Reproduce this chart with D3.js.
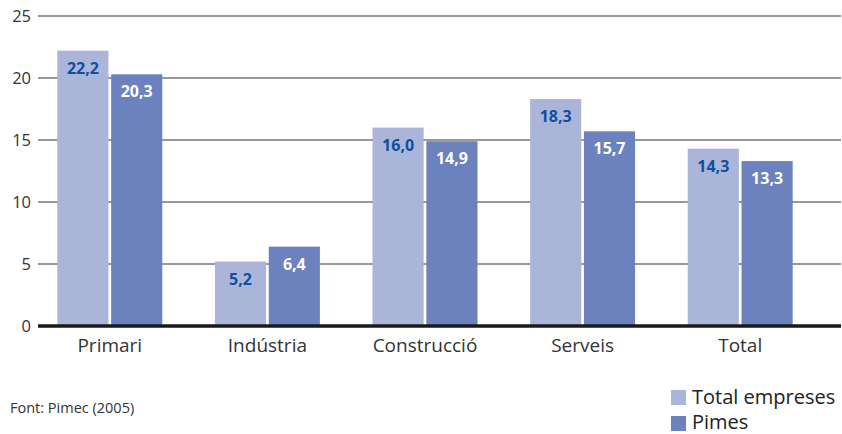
<!DOCTYPE html>
<html><head><meta charset="utf-8">
<script src="https://cdn.jsdelivr.net/npm/d3@7"></script>
<style>body{margin:0;background:#fff}svg{display:block}</style>
</head><body>
<svg id="c" width="842" height="434"></svg>
<script>
const categories = ["Primari","Indústria","Construcció","Serveis","Total"];
const seriesNames = ["Total empreses","Pimes"];
const totalEmpreses = [22.2, 5.2, 16.0, 18.3, 14.3];
const pimes = [20.3, 6.4, 14.9, 15.7, 13.3];
const yTicks = [0,5,10,15,20,25];
const source = "Font: Pimec (2005)";

const colors = ["#abb5da","#6b82bf"];
const labelColors = ["#0f4f9e","#ffffff"];
const series = [totalEmpreses, pimes];

const svg = d3.select("#c");
const font = "'Open Sans', sans-serif";
const y = d3.scaleLinear().domain([0,25]).range([326,16]);
const x = d3.scaleBand().domain(categories).range([31,819]).paddingInner(0.334).paddingOuter(0.167);
const xs = d3.scaleBand().domain(seriesNames).range([0,x.bandwidth()]).paddingInner(0.05);

// gridlines
svg.append("g").selectAll("line").data(yTicks.filter(d=>d>0)).join("line")
  .attr("x1",38).attr("x2",841).attr("y1",d=>y(d)).attr("y2",d=>y(d))
  .attr("stroke","#333").attr("stroke-width",1.2);

// tick labels
svg.append("g").selectAll("text").data(yTicks).join("text")
  .attr("x",31).attr("y",d=>y(d)+6).attr("text-anchor","end")
  .attr("font-family",font).attr("font-size",16.5).attr("fill","#333").text(d=>d);

// bars
const g = svg.append("g");
categories.forEach((c,i)=>{
  series.forEach((s,j)=>{
    const bx = x(c)+xs(seriesNames[j]);
    g.append("rect").attr("x",bx).attr("width",xs.bandwidth())
      .attr("y",y(s[i])).attr("height",y(0)-y(s[i])).attr("fill",colors[j]);
    g.append("text").attr("x",bx+xs.bandwidth()/2).attr("y",y(s[i])+23)
      .attr("text-anchor","middle").attr("font-family",font).attr("font-weight","bold")
      .attr("font-size",16).attr("fill",labelColors[j])
      .text(d3.format(".1f")(s[i]).replace(".",","));
  });
});

// zero line
svg.append("line").attr("x1",38).attr("x2",841).attr("y1",y(0)).attr("y2",y(0))
  .attr("stroke","#1a1a1a").attr("stroke-width",3.5);

// category labels
svg.append("g").selectAll("text").data(categories).join("text")
  .attr("x",d=>x(d)+x.bandwidth()/2).attr("y",352).attr("text-anchor","middle")
  .attr("font-family",font).attr("font-size",19).attr("fill","#333").text(d=>d);

// source
svg.append("text").attr("x",10).attr("y",413).attr("font-family",font)
  .attr("font-size",14.5).attr("fill","#333").text(source);

// legend
const lg = svg.append("g");
seriesNames.forEach((n,j)=>{
  lg.append("rect").attr("x",671).attr("y",390+j*26).attr("width",15).attr("height",15).attr("fill",colors[j]);
  lg.append("text").attr("x",692).attr("y",404+j*25).attr("font-family",font)
    .attr("font-size",20).attr("fill","#222").text(n);
});
</script>
</body></html>
